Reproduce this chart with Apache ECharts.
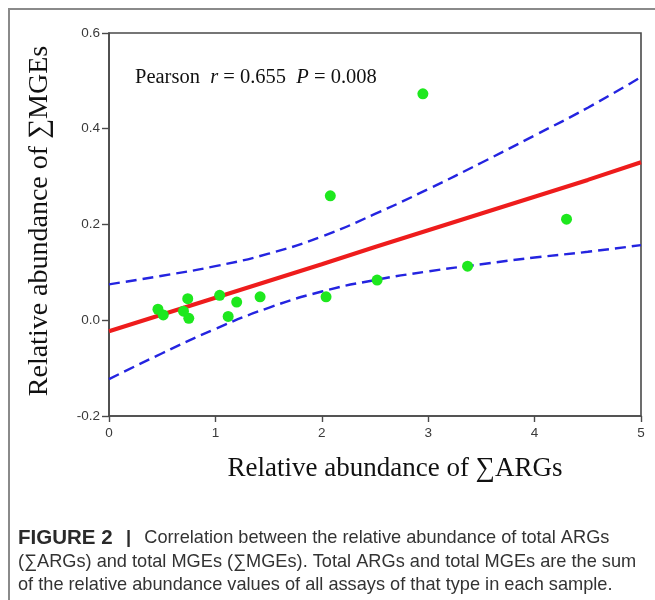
<!DOCTYPE html>
<html>
<head>
<meta charset="utf-8">
<script src="https://cdn.jsdelivr.net/npm/echarts@6/dist/echarts.min.js"></script>
<style>
html,body{margin:0;padding:0;background:#fff;}
#chart{width:655px;height:600px;}
</style>
</head>
<body>
<div id="chart"></div>
<script>
// Scatter points: [∑ARGs, ∑MGEs]
var argsX = [0.46, 0.51, 0.70, 0.74, 0.75, 1.04, 1.12, 1.20, 1.42, 2.04, 2.08, 2.52, 2.95, 3.37, 4.30];
var mgesY = [0.023, 0.011, 0.019, 0.045, 0.004, 0.052, 0.008, 0.038, 0.049, 0.049, 0.260, 0.084, 0.473, 0.113, 0.211];

// Regression line and 95% confidence band, read at these x positions
var bandX = [0, 0.5, 1, 1.5, 2, 2.5, 3, 3.5, 4, 4.5, 5];
var fitY = [-0.023, 0.012, 0.047, 0.082, 0.117, 0.153, 0.188, 0.223, 0.258, 0.293, 0.330];
var upperY = [0.075, 0.093, 0.113, 0.139, 0.175, 0.222, 0.274, 0.329, 0.386, 0.444, 0.508];
var lowerY = [-0.123, -0.069, -0.018, 0.026, 0.060, 0.084, 0.102, 0.117, 0.131, 0.143, 0.157];

var xTicks = [0, 1, 2, 3, 4, 5];
var yTicks = [-0.2, 0.0, 0.2, 0.4, 0.6];

function pairs(xs, ys) { return xs.map(function (x, i) { return [x, ys[i]]; }); }

var chart = echarts.init(document.getElementById('chart'));
var axisColor = '#4a4a4a';
var serif = 'Liberation Serif, Times New Roman, serif';
var sans = 'Liberation Sans, Arial, sans-serif';
var option = {
  animation: false,
  backgroundColor: '#fff',
  grid: { left: 109, right: 14, top: 33, bottom: 184, show: true, borderColor: axisColor, borderWidth: 1.6, backgroundColor: 'transparent' },
  xAxis: {
    type: 'value', min: xTicks[0], max: xTicks[xTicks.length - 1], interval: 1,
    axisLine: { show: true, onZero: false, lineStyle: { color: axisColor, width: 1.6 } },
    axisTick: { show: true, inside: false, length: 6, lineStyle: { color: axisColor, width: 1.4 } },
    axisLabel: { color: '#3a3a3a', fontFamily: sans, fontSize: 13.5, margin: 10 },
    splitLine: { show: false }
  },
  yAxis: {
    type: 'value', min: yTicks[0], max: yTicks[yTicks.length - 1], interval: 0.2,
    axisLine: { show: true, onZero: false, lineStyle: { color: axisColor, width: 1.6 } },
    axisTick: { show: true, inside: false, length: 7, lineStyle: { color: axisColor, width: 1.4 } },
    axisLabel: { color: '#3a3a3a', fontFamily: sans, fontSize: 13.5, margin: 9,
      formatter: function (v) { return (Math.round(v * 10) / 10).toFixed(1); } },
    splitLine: { show: false }
  },
  series: [
    { type: 'line', data: pairs(bandX, upperY), smooth: true, symbol: 'none', z: 2,
      lineStyle: { color: '#2424e0', width: 2.4, type: [11, 6] } },
    { type: 'line', data: pairs(bandX, lowerY), smooth: true, symbol: 'none', z: 2,
      lineStyle: { color: '#2424e0', width: 2.4, type: [11, 6] } },
    { type: 'line', data: pairs(bandX, fitY), symbol: 'none', z: 3,
      lineStyle: { color: '#ee1c1c', width: 4 } },
    { type: 'scatter', data: pairs(argsX, mgesY), symbol: 'circle', symbolSize: 11, z: 4,
      itemStyle: { color: '#1ee81e', opacity: 1 } }
  ],
  graphic: [
    { type: 'polyline', silent: true, shape: { points: [[9, 600], [9, 9], [655, 9]] },
      style: { stroke: '#8a8a8a', lineWidth: 2, fill: null } },
    { type: 'text', left: 135, top: 67,
      style: { rich: {
          n: { fontFamily: serif, fontSize: 20.5, fill: '#111' },
          i: { fontFamily: serif, fontSize: 20.5, fontStyle: 'italic', fill: '#111' }
        },
        text: '{n|Pearson  }{i|r}{n| = 0.655  }{i|P}{n| = 0.008}' } },
    { type: 'text', x: 40, y: 221, rotation: Math.PI / 2,
      style: { text: 'Relative abundance of \u2211MGEs', fontFamily: serif, fontSize: 28,
        fill: '#111', textAlign: 'center', textVerticalAlign: 'middle' } },
    { type: 'text', x: 395, y: 469,
      style: { text: 'Relative abundance of \u2211ARGs', fontFamily: serif, fontSize: 27,
        fill: '#111', textAlign: 'center', textVerticalAlign: 'middle' } },
    { type: 'text', left: 18, top: 526,
      style: { rich: {
          b: { fontFamily: sans, fontSize: 20.5, fontWeight: 'bold', fill: '#2a2a2a', lineHeight: 23.5 },
          s: { fontFamily: sans, fontSize: 18.2, fontWeight: 'bold', fill: '#2a2a2a', lineHeight: 23.5 },
          g: { fontFamily: sans, fontSize: 24, fill: '#333', lineHeight: 23.5 },
          n: { fontFamily: sans, fontSize: 18.2, fill: '#333', lineHeight: 23.5 }
        },
        text: '{b|FIGURE 2}{g|  }{s||}{g|  }{n|Correlation between the relative abundance of total ARGs}\n{n|(\u2211ARGs) and total MGEs (\u2211MGEs). Total ARGs and total MGEs are the sum}\n{n|of the relative abundance values of all assays of that type in each sample.}' } }
  ]
};
chart.setOption(option);
</script>
</body>
</html>
